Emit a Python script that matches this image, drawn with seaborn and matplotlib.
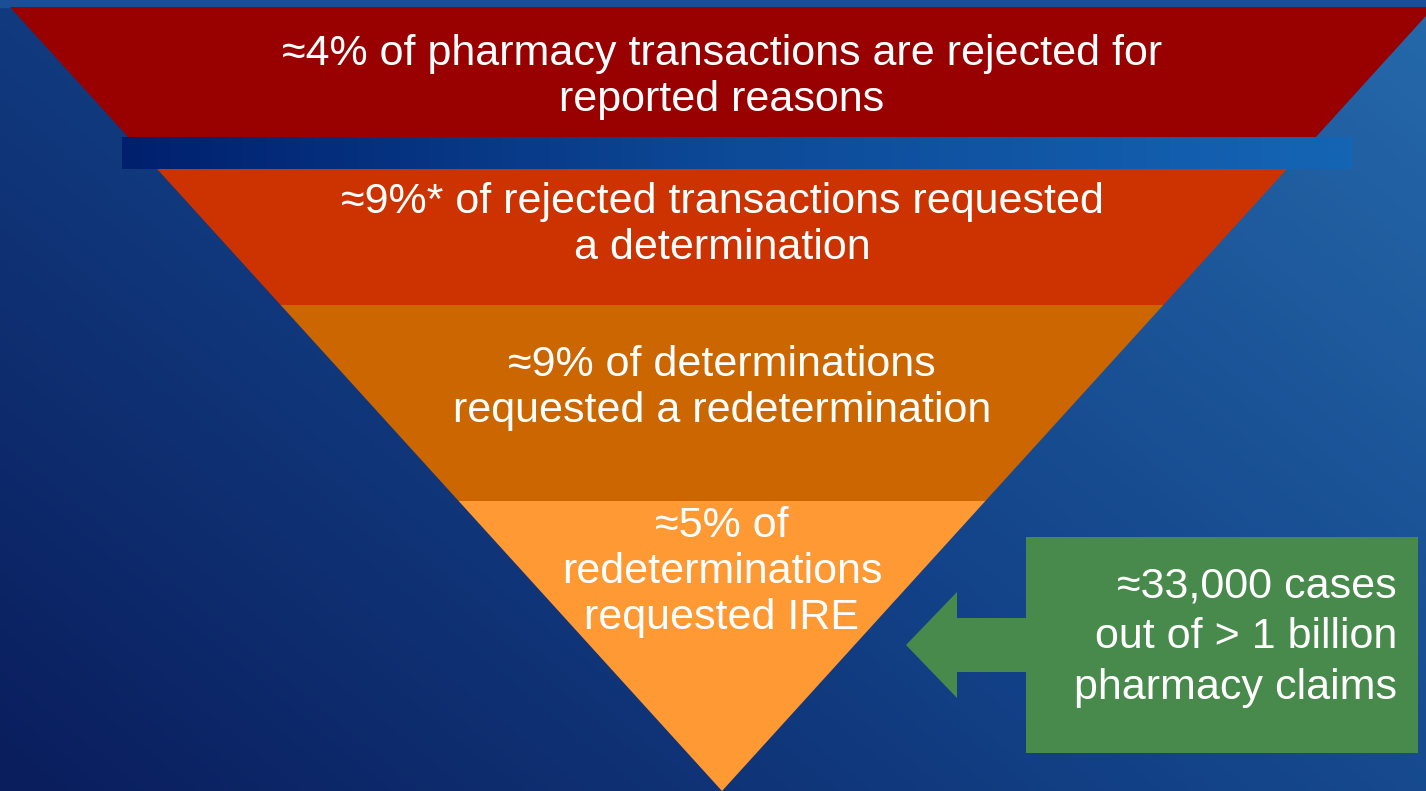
import numpy as np
import matplotlib.pyplot as plt
import matplotlib.colors as mcolors
import seaborn as sns

# Funnel stages, top to bottom
stage_labels = [
    "\u22484% of pharmacy transactions are rejected for\nreported reasons",
    "\u22489%* of rejected transactions requested\na determination",
    "\u22489% of determinations\nrequested a redetermination",
    "\u22485% of\nredeterminations\nrequested IRE",
]
stage_colors = ["#990000", "#CC3300", "#CC6600", "#FF9933"]
callout_text = "\u224833,000 cases\nout of > 1 billion\npharmacy claims"

# layout (pixel coordinates of the 1426x791 canvas)
W, H = 1426, 791
tip_x, tip_y = 722, 791
top_y, half_top = 7, 712
bounds = [7, 137, 305, 501, 791]   # stage top/bottom edges (band sits 137-169)
band_y = (137, 169)
text_y = [77, 225, 388, 572]

sns.set_theme(style="white")
plt.rcParams["font.family"] = ["Liberation Sans", "DejaVu Sans"]

fig = plt.figure(figsize=(W / 100, H / 100), dpi=100)
ax = fig.add_axes([0, 0, 1, 1])
ax.set_xlim(0, W)
ax.set_ylim(H, 0)
ax.axis("off")

# background diagonal gradient: dark navy bottom-left -> lighter blue top-right
bg = mcolors.LinearSegmentedColormap.from_list("bg", ["#0a1d5c", "#134288", "#2569aa"])
xx, yy = np.meshgrid(np.linspace(0, 1, 300), np.linspace(0, 1, 200))
grad = (xx * 0.6 + (1 - yy) * 0.4)
ax.imshow(grad, cmap=bg, extent=[0, W, H, 0], aspect="auto", zorder=0)
ax.axhspan(0, top_y, color="#1a4f95", zorder=0.5)


def half_width(y):
    return half_top * (tip_y - y) / (tip_y - top_y)


def edges(y):
    return tip_x - half_width(y), tip_x + half_width(y)


# stage trapezoids
seg_ranges = [(bounds[0], bounds[1]), (band_y[1], bounds[2]),
              (bounds[2], bounds[3]), (bounds[3], bounds[4])]
for (y0, y1), col in zip(seg_ranges, stage_colors):
    l0, r0 = edges(y0)
    l1, r1 = edges(y1)
    ax.fill([l0, r0, r1, l1], [y0, y0, y1, y1], color=col, lw=0, zorder=2)

# blue gradient band between first two stages
band = mcolors.LinearSegmentedColormap.from_list("band", ["#00206e", "#0d4a98", "#1565b5"])
ax.imshow(np.linspace(0, 1, 256)[None, :], cmap=band,
          extent=[122, 1353, band_y[1], band_y[0]], aspect="auto", zorder=3)

for lab, y in zip(stage_labels, text_y):
    ax.text(tip_x, y, lab, color="white", fontsize=31, ha="center", va="center",
            linespacing=1.2, zorder=5)

# green callout with left-pointing arrow
green = "#488a4b"
ax.fill([1026, 1418, 1418, 1026], [537, 537, 753, 753], color=green, lw=0, zorder=2)
ax.fill([906, 957, 957, 1027, 1027, 957, 957],
        [645, 592, 618, 618, 672, 672, 698], color=green, lw=0, zorder=2)
ax.text(1397, 637, callout_text, color="white", fontsize=31, ha="right", va="center",
        linespacing=1.34, zorder=5)

fig.savefig("out.png", dpi=100)
